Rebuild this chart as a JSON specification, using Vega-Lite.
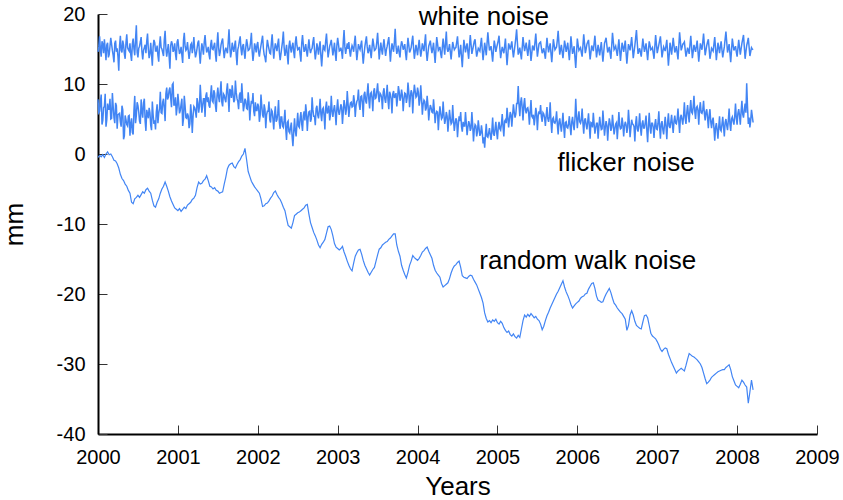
{
"$schema":"https://vega.github.io/schema/vega-lite/v6.json",
"width":719,"height":420,
"autosize":{"type":"none"},
"padding":{"left":98,"top":14,"right":26,"bottom":66},
"background":"white",
"config":{"view":{"stroke":null},"font":"Liberation Sans",
"axis":{"grid":false,"domainColor":"black","domainWidth":2,"tickColor":"#333333","tickWidth":1,"tickSize":-9,"labelFontSize":20,"labelColor":"black","labelFont":"Liberation Sans","titleFont":"Liberation Sans","titleFontSize":26,"titleFontWeight":"normal","titleColor":"black","labelFlush":false,"labelOverlap":false,"labelExpr":"''+datum.value"}},
"layer":[
{"data":{"values":[
{"t":2000,"w":14.6,"f":7.8,"r":-0.5},{"t":2000.02,"w":16.8,"f":6.1,"r":-0.2},{"t":2000.04,"w":13.9,"f":8.5,"r":-0.4},{"t":2000.06,"w":15.7,"f":4.8,"r":-0.1},{"t":2000.08,"w":16.4,"f":6.8,"r":-0.5},{"t":2000.1,"w":13.4,"f":3.9,"r":0.0},{"t":2000.12,"w":15.9,"f":7.2,"r":0.3},{"t":2000.14,"w":14.2,"f":6.4,"r":-0.1},{"t":2000.16,"w":16.6,"f":5.0,"r":0.0},{"t":2000.18,"w":14.8,"f":8.7,"r":-0.4},
{"t":2000.2,"w":13.1,"f":5.2,"r":-0.9},{"t":2000.22,"w":16.2,"f":7.3,"r":-1.0},{"t":2000.24,"w":15.1,"f":3.6,"r":-1.4},{"t":2000.26,"w":11.9,"f":5.7,"r":-2.0},{"t":2000.28,"w":16.9,"f":4.6,"r":-2.9},{"t":2000.3,"w":14.5,"f":6.9,"r":-3.5},{"t":2000.32,"w":15.6,"f":2.1,"r":-3.8},{"t":2000.34,"w":13.6,"f":5.5,"r":-4.3},{"t":2000.36,"w":17.1,"f":4.2,"r":-4.6},{"t":2000.38,"w":14.9,"f":5.4,"r":-5.2},
{"t":2000.4,"w":15.8,"f":2.6,"r":-5.6},{"t":2000.42,"w":13.3,"f":5.1,"r":-6.9},{"t":2000.44,"w":16.5,"f":2.8,"r":-7.1},{"t":2000.46,"w":14.1,"f":8.3,"r":-6.4},{"t":2000.48,"w":18.4,"f":5.5,"r":-6.2},{"t":2000.5,"w":13.8,"f":6.9,"r":-5.9},{"t":2000.52,"w":15.4,"f":4.7,"r":-6.2},{"t":2000.54,"w":16.7,"f":7.8,"r":-5.8},{"t":2000.56,"w":13.5,"f":5.2,"r":-5.4},{"t":2000.58,"w":15.2,"f":7.9,"r":-5.6},
{"t":2000.6,"w":14.4,"f":3.3,"r":-5.1},{"t":2000.62,"w":17.2,"f":5.7,"r":-4.9},{"t":2000.64,"w":13.7,"f":6.6,"r":-5.3},{"t":2000.66,"w":15.9,"f":4.1,"r":-5.6},{"t":2000.68,"w":12.6,"f":7.5,"r":-6.6},{"t":2000.7,"w":16.3,"f":4.3,"r":-7.4},{"t":2000.72,"w":14.7,"f":3.5,"r":-7.6},{"t":2000.74,"w":15.5,"f":7.1,"r":-6.9},{"t":2000.76,"w":13.2,"f":5.8,"r":-6.4},{"t":2000.78,"w":16.8,"f":8.9,"r":-5.6},
{"t":2000.8,"w":15.0,"f":5.8,"r":-5.0},{"t":2000.82,"w":14.0,"f":7.9,"r":-4.6},{"t":2000.84,"w":17.6,"f":4.7,"r":-4.0},{"t":2000.86,"w":13.9,"f":9.5,"r":-4.6},{"t":2000.88,"w":15.7,"f":8.1,"r":-5.3},{"t":2000.9,"w":12.2,"f":9.5,"r":-6.1},{"t":2000.92,"w":16.1,"f":6.7,"r":-6.7},{"t":2000.94,"w":14.6,"f":10.1,"r":-7.2},{"t":2000.96,"w":15.8,"f":7.0,"r":-7.7},{"t":2000.98,"w":13.4,"f":5.5,"r":-7.9},
{"t":2001,"w":16.4,"f":8.6,"r":-8.1},{"t":2001.02,"w":14.3,"f":5.8,"r":-7.8},{"t":2001.04,"w":15.3,"f":7.1,"r":-8.2},{"t":2001.06,"w":13.0,"f":4.0,"r":-7.9},{"t":2001.08,"w":17.3,"f":8.3,"r":-7.6},{"t":2001.1,"w":14.8,"f":5.2,"r":-7.8},{"t":2001.12,"w":16.0,"f":5.8,"r":-7.3},{"t":2001.14,"w":13.6,"f":3.7,"r":-7.1},{"t":2001.16,"w":15.6,"f":7.1,"r":-6.9},{"t":2001.18,"w":14.4,"f":3.0,"r":-6.5},
{"t":2001.2,"w":16.7,"f":6.8,"r":-6.3},{"t":2001.22,"w":13.8,"f":6.1,"r":-5.9},{"t":2001.24,"w":15.1,"f":8.0,"r":-4.8},{"t":2001.26,"w":16.2,"f":5.9,"r":-4.0},{"t":2001.28,"w":12.9,"f":9.9,"r":-4.3},{"t":2001.3,"w":15.8,"f":5.9,"r":-4.2},{"t":2001.32,"w":14.2,"f":7.9,"r":-3.8},{"t":2001.34,"w":17.0,"f":5.3,"r":-3.6},{"t":2001.36,"w":14.5,"f":8.8,"r":-3.1},{"t":2001.38,"w":15.3,"f":8.1,"r":-3.8},
{"t":2001.4,"w":13.5,"f":6.6,"r":-4.6},{"t":2001.42,"w":16.3,"f":9.8,"r":-4.7},{"t":2001.44,"w":14.9,"f":7.4,"r":-5.0},{"t":2001.46,"w":15.9,"f":8.7,"r":-4.8},{"t":2001.48,"w":13.2,"f":6.0,"r":-5.2},{"t":2001.5,"w":17.4,"f":9.5,"r":-5.3},{"t":2001.52,"w":14.0,"f":7.4,"r":-5.6},{"t":2001.54,"w":15.6,"f":10.4,"r":-5.5},{"t":2001.56,"w":16.5,"f":6.8,"r":-5.4},{"t":2001.58,"w":13.7,"f":8.4,"r":-4.3},
{"t":2001.6,"w":15.2,"f":7.4,"r":-3.3},{"t":2001.62,"w":14.4,"f":10.1,"r":-2.1},{"t":2001.64,"w":17.8,"f":6.0,"r":-1.6},{"t":2001.66,"w":13.8,"f":9.0,"r":-1.4},{"t":2001.68,"w":15.9,"f":9.8,"r":-1.3},{"t":2001.7,"w":14.6,"f":7.4,"r":-1.8},{"t":2001.72,"w":16.2,"f":10.5,"r":-2.0},{"t":2001.74,"w":12.7,"f":7.9,"r":-1.5},{"t":2001.76,"w":15.4,"f":6.4,"r":-1.1},{"t":2001.78,"w":16.8,"f":8.8,"r":-0.8},
{"t":2001.8,"w":14.1,"f":10.1,"r":-0.3},{"t":2001.82,"w":15.7,"f":6.1,"r":0.0},{"t":2001.84,"w":13.6,"f":7.9,"r":0.8},{"t":2001.86,"w":16.4,"f":6.5,"r":-0.8},{"t":2001.88,"w":14.8,"f":8.8,"r":-2.5},{"t":2001.9,"w":15.1,"f":4.8,"r":-3.2},{"t":2001.92,"w":17.3,"f":7.6,"r":-3.9},{"t":2001.94,"w":13.3,"f":8.7,"r":-4.3},{"t":2001.96,"w":15.8,"f":5.4,"r":-4.7},{"t":2001.98,"w":14.5,"f":6.2,"r":-5.0},
{"t":2002,"w":16.0,"f":7.2,"r":-5.3},{"t":2002.02,"w":13.9,"f":4.6,"r":-5.6},{"t":2002.04,"w":15.5,"f":8.5,"r":-6.4},{"t":2002.06,"w":16.9,"f":5.6,"r":-7.5},{"t":2002.08,"w":14.2,"f":7.1,"r":-7.4},{"t":2002.1,"w":13.1,"f":3.7,"r":-7.1},{"t":2002.12,"w":16.3,"f":6.1,"r":-7.0},{"t":2002.14,"w":15.0,"f":7.5,"r":-6.7},{"t":2002.16,"w":14.3,"f":4.5,"r":-6.3},{"t":2002.18,"w":17.1,"f":6.1,"r":-6.0},
{"t":2002.2,"w":13.6,"f":3.5,"r":-5.5},{"t":2002.22,"w":15.8,"f":6.8,"r":-5.3},{"t":2002.24,"w":14.7,"f":4.9,"r":-5.8},{"t":2002.26,"w":16.5,"f":7.7,"r":-6.2},{"t":2002.28,"w":13.4,"f":3.6,"r":-6.5},{"t":2002.3,"w":15.2,"f":5.3,"r":-7.0},{"t":2002.32,"w":17.5,"f":3.8,"r":-7.6},{"t":2002.34,"w":14.0,"f":6.3,"r":-8.1},{"t":2002.36,"w":15.6,"f":2.0,"r":-9.2},{"t":2002.38,"w":12.8,"f":4.7,"r":-10.2},
{"t":2002.4,"w":16.2,"f":3.0,"r":-10.4},{"t":2002.42,"w":14.5,"f":4.5,"r":-10.6},{"t":2002.44,"w":15.9,"f":1.1,"r":-9.8},{"t":2002.46,"w":13.7,"f":5.1,"r":-8.8},{"t":2002.48,"w":16.8,"f":2.5,"r":-8.6},{"t":2002.5,"w":14.9,"f":5.9,"r":-8.4},{"t":2002.52,"w":15.3,"f":3.8,"r":-8.3},{"t":2002.54,"w":13.2,"f":6.0,"r":-8.1},{"t":2002.56,"w":17.0,"f":3.3,"r":-7.9},{"t":2002.58,"w":14.6,"f":6.1,"r":-7.7},
{"t":2002.6,"w":15.7,"f":7.1,"r":-7.3},{"t":2002.62,"w":13.9,"f":3.3,"r":-7.2},{"t":2002.64,"w":16.4,"f":6.0,"r":-8.6},{"t":2002.66,"w":14.4,"f":4.6,"r":-9.8},{"t":2002.68,"w":15.1,"f":8.1,"r":-10.5},{"t":2002.7,"w":16.7,"f":5.4,"r":-11.2},{"t":2002.72,"w":13.5,"f":4.1,"r":-11.7},{"t":2002.74,"w":15.8,"f":6.9,"r":-12.3},{"t":2002.76,"w":14.2,"f":5.1,"r":-13.0},{"t":2002.78,"w":16.1,"f":7.9,"r":-13.4},
{"t":2002.8,"w":12.5,"f":4.7,"r":-12.9},{"t":2002.82,"w":15.6,"f":6.6,"r":-12.6},{"t":2002.84,"w":14.8,"f":3.5,"r":-12.2},{"t":2002.86,"w":17.2,"f":7.5,"r":-11.3},{"t":2002.88,"w":13.8,"f":6.1,"r":-10.4},{"t":2002.9,"w":15.4,"f":4.8,"r":-10.3},{"t":2002.92,"w":16.3,"f":8.3,"r":-10.8},{"t":2002.94,"w":14.1,"f":5.3,"r":-11.7},{"t":2002.96,"w":15.9,"f":7.0,"r":-12.8},{"t":2002.98,"w":13.3,"f":4.1,"r":-13.3},
{"t":2003,"w":16.6,"f":7.8,"r":-13.5},{"t":2003.02,"w":14.7,"f":5.6,"r":-13.7},{"t":2003.04,"w":15.2,"f":7.1,"r":-13.5},{"t":2003.06,"w":13.6,"f":4.3,"r":-13.2},{"t":2003.08,"w":17.7,"f":7.7,"r":-14.0},{"t":2003.1,"w":14.3,"f":5.6,"r":-14.6},{"t":2003.12,"w":15.8,"f":9.0,"r":-15.3},{"t":2003.14,"w":16.0,"f":5.3,"r":-15.9},{"t":2003.16,"w":13.9,"f":7.3,"r":-16.4},{"t":2003.18,"w":15.5,"f":6.7,"r":-16.7},
{"t":2003.2,"w":14.6,"f":8.4,"r":-15.6},{"t":2003.22,"w":16.9,"f":5.3,"r":-14.6},{"t":2003.24,"w":13.4,"f":7.5,"r":-14.1},{"t":2003.26,"w":15.7,"f":9.2,"r":-13.7},{"t":2003.28,"w":14.9,"f":6.3,"r":-13.6},{"t":2003.3,"w":16.2,"f":8.3,"r":-14.3},{"t":2003.32,"w":12.9,"f":5.3,"r":-15.2},{"t":2003.34,"w":15.3,"f":8.9,"r":-15.9},{"t":2003.36,"w":16.8,"f":7.2,"r":-16.4},{"t":2003.38,"w":14.4,"f":10.1,"r":-16.9},
{"t":2003.4,"w":15.6,"f":6.5,"r":-17.3},{"t":2003.42,"w":13.7,"f":8.8,"r":-16.9},{"t":2003.44,"w":16.5,"f":6.1,"r":-16.5},{"t":2003.46,"w":14.8,"f":9.4,"r":-16.2},{"t":2003.48,"w":15.1,"f":8.0,"r":-15.3},{"t":2003.5,"w":17.3,"f":10.1,"r":-14.4},{"t":2003.52,"w":13.5,"f":7.4,"r":-13.6},{"t":2003.54,"w":15.9,"f":8.5,"r":-13.4},{"t":2003.56,"w":14.2,"f":6.4,"r":-13.0},{"t":2003.58,"w":16.4,"f":9.4,"r":-12.8},
{"t":2003.6,"w":14.0,"f":7.3,"r":-12.6},{"t":2003.62,"w":15.4,"f":9.9,"r":-12.5},{"t":2003.64,"w":16.7,"f":6.4,"r":-12.2},{"t":2003.66,"w":13.2,"f":8.5,"r":-12.0},{"t":2003.68,"w":15.8,"f":5.8,"r":-11.7},{"t":2003.7,"w":14.6,"f":9.0,"r":-11.4},{"t":2003.72,"w":17.9,"f":8.3,"r":-11.4},{"t":2003.74,"w":14.3,"f":6.8,"r":-13.0},{"t":2003.76,"w":15.5,"f":9.7,"r":-13.9},{"t":2003.78,"w":13.8,"f":7.6,"r":-14.6},
{"t":2003.8,"w":16.1,"f":9.2,"r":-15.9},{"t":2003.82,"w":14.9,"f":6.1,"r":-16.6},{"t":2003.84,"w":15.7,"f":8.7,"r":-17.2},{"t":2003.86,"w":13.4,"f":7.3,"r":-17.7},{"t":2003.88,"w":16.6,"f":10.2,"r":-16.9},{"t":2003.9,"w":14.5,"f":6.7,"r":-15.9},{"t":2003.92,"w":15.2,"f":9.1,"r":-15.3},{"t":2003.94,"w":16.9,"f":5.8,"r":-14.5},{"t":2003.96,"w":13.6,"f":9.9,"r":-14.8},{"t":2003.98,"w":15.6,"f":8.1,"r":-15.0},
{"t":2004,"w":14.1,"f":9.5,"r":-15.2},{"t":2004.02,"w":16.3,"f":6.9,"r":-14.9},{"t":2004.04,"w":13.9,"f":9.8,"r":-14.5},{"t":2004.06,"w":15.8,"f":5.6,"r":-14.0},{"t":2004.08,"w":14.7,"f":7.7,"r":-13.8},{"t":2004.1,"w":17.1,"f":6.2,"r":-13.5},{"t":2004.12,"w":13.3,"f":8.3,"r":-13.3},{"t":2004.14,"w":15.4,"f":4.8,"r":-13.9},{"t":2004.16,"w":16.2,"f":7.0,"r":-14.4},{"t":2004.18,"w":14.4,"f":6.0,"r":-14.9},
{"t":2004.2,"w":15.9,"f":7.8,"r":-15.9},{"t":2004.22,"w":13.0,"f":4.4,"r":-16.6},{"t":2004.24,"w":16.7,"f":6.1,"r":-17.0},{"t":2004.26,"w":14.8,"f":3.4,"r":-17.3},{"t":2004.28,"w":15.3,"f":6.8,"r":-17.6},{"t":2004.3,"w":13.7,"f":5.0,"r":-18.5},{"t":2004.32,"w":16.5,"f":7.5,"r":-19.0},{"t":2004.34,"w":14.2,"f":4.3,"r":-18.8},{"t":2004.36,"w":17.5,"f":6.0,"r":-18.6},{"t":2004.38,"w":14.6,"f":3.2,"r":-18.4},
{"t":2004.4,"w":15.7,"f":6.3,"r":-17.8},{"t":2004.42,"w":13.5,"f":4.3,"r":-17.0},{"t":2004.44,"w":16.0,"f":7.0,"r":-16.4},{"t":2004.46,"w":14.9,"f":3.3,"r":-16.0},{"t":2004.48,"w":15.2,"f":5.1,"r":-15.8},{"t":2004.5,"w":16.8,"f":2.4,"r":-15.5},{"t":2004.52,"w":13.8,"f":5.4,"r":-15.3},{"t":2004.54,"w":15.6,"f":6.0,"r":-16.2},{"t":2004.56,"w":12.4,"f":3.2,"r":-17.4},{"t":2004.58,"w":16.3,"f":4.0,"r":-17.6},
{"t":2004.6,"w":14.5,"f":6.0,"r":-17.7},{"t":2004.62,"w":15.8,"f":2.7,"r":-17.8},{"t":2004.64,"w":13.6,"f":4.7,"r":-17.5},{"t":2004.66,"w":17.0,"f":3.3,"r":-17.3},{"t":2004.68,"w":14.3,"f":6.0,"r":-17.4},{"t":2004.7,"w":15.5,"f":1.8,"r":-17.9},{"t":2004.72,"w":16.4,"f":4.2,"r":-18.3},{"t":2004.74,"w":13.9,"f":2.5,"r":-18.7},{"t":2004.76,"w":15.1,"f":4.8,"r":-19.3},{"t":2004.78,"w":14.7,"f":2.6,"r":-19.9},
{"t":2004.8,"w":16.6,"f":4.1,"r":-20.5},{"t":2004.82,"w":13.4,"f":1.5,"r":-21.3},{"t":2004.84,"w":15.9,"f":0.9,"r":-22.7},{"t":2004.86,"w":14.1,"f":4.3,"r":-23.5},{"t":2004.88,"w":17.4,"f":2.4,"r":-24.0},{"t":2004.9,"w":14.8,"f":3.7,"r":-23.8},{"t":2004.92,"w":15.4,"f":2.0,"r":-24.1},{"t":2004.94,"w":13.2,"f":5.2,"r":-23.7},{"t":2004.96,"w":16.2,"f":2.6,"r":-23.9},{"t":2004.98,"w":14.6,"f":4.6,"r":-23.6},
{"t":2005,"w":15.7,"f":2.1,"r":-24.1},{"t":2005.02,"w":16.9,"f":4.6,"r":-24.3},{"t":2005.04,"w":13.7,"f":3.4,"r":-23.9},{"t":2005.06,"w":15.3,"f":5.7,"r":-24.2},{"t":2005.08,"w":14.4,"f":2.5,"r":-24.8},{"t":2005.1,"w":16.5,"f":4.9,"r":-25.2},{"t":2005.12,"w":12.7,"f":6.6,"r":-25.5},{"t":2005.14,"w":15.8,"f":3.8,"r":-25.3},{"t":2005.16,"w":14.9,"f":6.0,"r":-25.8},{"t":2005.18,"w":16.1,"f":3.9,"r":-26.0},
{"t":2005.2,"w":13.8,"f":7.1,"r":-25.7},{"t":2005.22,"w":15.6,"f":5.2,"r":-26.1},{"t":2005.24,"w":17.8,"f":7.2,"r":-26.3},{"t":2005.26,"w":14.2,"f":9.7,"r":-25.9},{"t":2005.28,"w":15.2,"f":5.4,"r":-26.2},{"t":2005.3,"w":13.5,"f":8.1,"r":-25.0},{"t":2005.32,"w":16.7,"f":4.8,"r":-23.8},{"t":2005.34,"w":14.7,"f":8.0,"r":-23.0},{"t":2005.36,"w":15.9,"f":5.8,"r":-23.3},{"t":2005.38,"w":14.0,"f":6.6,"r":-22.9},
{"t":2005.4,"w":16.3,"f":4.2,"r":-23.2},{"t":2005.42,"w":13.3,"f":7.7,"r":-22.8},{"t":2005.44,"w":15.5,"f":5.2,"r":-23.1},{"t":2005.46,"w":14.8,"f":4.1,"r":-23.4},{"t":2005.48,"w":17.2,"f":6.6,"r":-23.2},{"t":2005.5,"w":13.9,"f":3.4,"r":-23.6},{"t":2005.52,"w":15.7,"f":6.1,"r":-23.8},{"t":2005.54,"w":16.0,"f":7.0,"r":-24.3},{"t":2005.56,"w":14.4,"f":4.6,"r":-25.1},{"t":2005.58,"w":15.1,"f":5.7,"r":-24.6},
{"t":2005.6,"w":13.6,"f":4.0,"r":-23.8},{"t":2005.62,"w":16.6,"f":6.7,"r":-23.1},{"t":2005.64,"w":14.5,"f":4.6,"r":-22.6},{"t":2005.66,"w":15.8,"f":7.4,"r":-22.0},{"t":2005.68,"w":13.1,"f":3.0,"r":-21.5},{"t":2005.7,"w":16.4,"f":5.2,"r":-21.0},{"t":2005.72,"w":14.9,"f":4.4,"r":-20.5},{"t":2005.74,"w":15.3,"f":6.1,"r":-20.0},{"t":2005.76,"w":17.6,"f":2.8,"r":-19.6},{"t":2005.78,"w":14.2,"f":5.1,"r":-19.1},
{"t":2005.8,"w":15.6,"f":3.2,"r":-18.6},{"t":2005.82,"w":13.7,"f":5.9,"r":-18.1},{"t":2005.84,"w":16.2,"f":2.3,"r":-19.0},{"t":2005.86,"w":14.6,"f":4.6,"r":-19.7},{"t":2005.88,"w":15.9,"f":3.7,"r":-20.2},{"t":2005.9,"w":13.4,"f":5.4,"r":-20.8},{"t":2005.92,"w":16.8,"f":2.7,"r":-21.5},{"t":2005.94,"w":14.3,"f":5.3,"r":-22.0},{"t":2005.96,"w":15.4,"f":3.4,"r":-21.7},{"t":2005.98,"w":12.3,"f":7.9,"r":-21.4},
{"t":2006,"w":16.5,"f":3.7,"r":-21.2},{"t":2006.02,"w":14.8,"f":6.1,"r":-21.0},{"t":2006.04,"w":15.2,"f":4.4,"r":-20.6},{"t":2006.06,"w":13.9,"f":6.5,"r":-20.4},{"t":2006.08,"w":17.1,"f":2.9,"r":-20.3},{"t":2006.1,"w":14.4,"f":5.1,"r":-20.0},{"t":2006.12,"w":15.7,"f":3.5,"r":-19.9},{"t":2006.14,"w":16.3,"f":5.8,"r":-19.3},{"t":2006.16,"w":13.5,"f":2.2,"r":-18.9},{"t":2006.18,"w":15.5,"f":4.4,"r":-18.5},
{"t":2006.2,"w":14.7,"f":5.9,"r":-18.4},{"t":2006.22,"w":16.9,"f":2.9,"r":-19.2},{"t":2006.24,"w":13.8,"f":4.4,"r":-20.3},{"t":2006.26,"w":15.6,"f":2.2,"r":-20.9},{"t":2006.28,"w":14.1,"f":5.3,"r":-21.0},{"t":2006.3,"w":16.0,"f":3.5,"r":-21.2},{"t":2006.32,"w":13.2,"f":6.2,"r":-21.1},{"t":2006.34,"w":15.8,"f":2.6,"r":-20.5},{"t":2006.36,"w":16.6,"f":4.7,"r":-20.0},{"t":2006.38,"w":14.5,"f":1.9,"r":-19.6},
{"t":2006.4,"w":15.3,"f":5.1,"r":-19.2},{"t":2006.42,"w":13.6,"f":3.3,"r":-19.8},{"t":2006.44,"w":17.3,"f":5.6,"r":-20.6},{"t":2006.46,"w":14.9,"f":2.8,"r":-21.3},{"t":2006.48,"w":15.4,"f":4.3,"r":-21.6},{"t":2006.5,"w":14.0,"f":2.1,"r":-22.0},{"t":2006.52,"w":16.4,"f":6.0,"r":-22.3},{"t":2006.54,"w":13.3,"f":3.6,"r":-22.6},{"t":2006.56,"w":15.9,"f":5.2,"r":-22.8},{"t":2006.58,"w":14.6,"f":2.5,"r":-23.2},
{"t":2006.6,"w":16.2,"f":4.6,"r":-23.6},{"t":2006.62,"w":12.9,"f":3.0,"r":-25.2},{"t":2006.64,"w":15.7,"f":6.3,"r":-24.5},{"t":2006.66,"w":14.8,"f":2.4,"r":-23.0},{"t":2006.68,"w":16.7,"f":4.9,"r":-22.4},{"t":2006.7,"w":13.7,"f":4.2,"r":-23.0},{"t":2006.72,"w":15.5,"f":1.8,"r":-23.9},{"t":2006.74,"w":17.7,"f":5.4,"r":-24.5},{"t":2006.76,"w":14.3,"f":3.2,"r":-24.7},{"t":2006.78,"w":15.1,"f":5.8,"r":-24.9},
{"t":2006.8,"w":13.9,"f":2.6,"r":-25.0},{"t":2006.82,"w":16.5,"f":4.8,"r":-24.0},{"t":2006.84,"w":14.6,"f":3.7,"r":-23.1},{"t":2006.86,"w":15.8,"f":5.5,"r":-23.0},{"t":2006.88,"w":13.4,"f":1.7,"r":-23.4},{"t":2006.9,"w":16.1,"f":5.9,"r":-24.5},{"t":2006.92,"w":14.9,"f":2.9,"r":-25.6},{"t":2006.94,"w":15.2,"f":4.4,"r":-26.0},{"t":2006.96,"w":13.6,"f":2.3,"r":-26.2},{"t":2006.98,"w":17.0,"f":5.0,"r":-26.4},
{"t":2007,"w":14.4,"f":3.5,"r":-26.8},{"t":2007.02,"w":15.6,"f":6.1,"r":-27.3},{"t":2007.04,"w":16.8,"f":2.2,"r":-27.9},{"t":2007.06,"w":13.8,"f":4.7,"r":-28.2},{"t":2007.08,"w":15.3,"f":2.8,"r":-27.9},{"t":2007.1,"w":14.7,"f":5.3,"r":-27.7},{"t":2007.12,"w":16.3,"f":2.1,"r":-27.8},{"t":2007.14,"w":12.6,"f":5.8,"r":-28.6},{"t":2007.16,"w":15.9,"f":3.7,"r":-29.2},{"t":2007.18,"w":14.2,"f":5.6,"r":-29.8},
{"t":2007.2,"w":16.6,"f":3.0,"r":-30.3},{"t":2007.22,"w":14.5,"f":5.5,"r":-30.8},{"t":2007.24,"w":15.4,"f":4.3,"r":-31.3},{"t":2007.26,"w":13.5,"f":6.5,"r":-31.0},{"t":2007.28,"w":17.4,"f":3.0,"r":-30.8},{"t":2007.3,"w":14.8,"f":5.6,"r":-30.6},{"t":2007.32,"w":15.7,"f":4.2,"r":-30.8},{"t":2007.34,"w":16.0,"f":7.4,"r":-31.0},{"t":2007.36,"w":13.9,"f":4.3,"r":-30.2},{"t":2007.38,"w":15.2,"f":7.0,"r":-29.3},
{"t":2007.4,"w":14.3,"f":4.5,"r":-28.5},{"t":2007.42,"w":16.9,"f":7.7,"r":-28.7},{"t":2007.44,"w":13.7,"f":5.8,"r":-28.9},{"t":2007.46,"w":15.6,"f":8.3,"r":-29.0},{"t":2007.48,"w":14.6,"f":5.0,"r":-29.2},{"t":2007.5,"w":16.2,"f":6.8,"r":-29.4},{"t":2007.52,"w":13.2,"f":4.2,"r":-29.7},{"t":2007.54,"w":15.8,"f":7.4,"r":-30.0},{"t":2007.56,"w":14.9,"f":5.8,"r":-30.5},{"t":2007.58,"w":17.2,"f":7.6,"r":-31.3},
{"t":2007.6,"w":14.1,"f":4.8,"r":-32.1},{"t":2007.62,"w":15.5,"f":6.4,"r":-32.8},{"t":2007.64,"w":16.4,"f":3.7,"r":-32.6},{"t":2007.66,"w":13.6,"f":6.4,"r":-32.3},{"t":2007.68,"w":15.1,"f":3.7,"r":-31.9},{"t":2007.7,"w":14.7,"f":5.2,"r":-31.7},{"t":2007.72,"w":16.7,"f":1.9,"r":-31.5},{"t":2007.74,"w":13.4,"f":4.4,"r":-31.3},{"t":2007.76,"w":15.9,"f":2.2,"r":-31.1},{"t":2007.78,"w":14.4,"f":5.4,"r":-31.0},
{"t":2007.8,"w":16.1,"f":3.3,"r":-30.9},{"t":2007.82,"w":13.8,"f":5.3,"r":-30.8},{"t":2007.84,"w":15.3,"f":2.5,"r":-30.8},{"t":2007.86,"w":17.5,"f":5.0,"r":-30.5},{"t":2007.88,"w":14.5,"f":3.4,"r":-30.3},{"t":2007.9,"w":15.7,"f":6.5,"r":-30.1},{"t":2007.92,"w":13.1,"f":3.3,"r":-30.8},{"t":2007.94,"w":16.5,"f":5.3,"r":-31.8},{"t":2007.96,"w":14.8,"f":4.2,"r":-32.4},{"t":2007.98,"w":15.4,"f":7.2,"r":-33.0},
{"t":2008,"w":13.9,"f":4.2,"r":-33.2},{"t":2008.02,"w":16.3,"f":6.4,"r":-33.4},{"t":2008.04,"w":14.2,"f":4.2,"r":-32.9},{"t":2008.06,"w":15.8,"f":7.6,"r":-32.3},{"t":2008.08,"w":17.0,"f":5.2,"r":-32.6},{"t":2008.1,"w":13.6,"f":7.2,"r":-33.0},{"t":2008.12,"w":15.5,"f":10.1,"r":-33.3},{"t":2008.14,"w":16.6,"f":4.3,"r":-35.6},{"t":2008.16,"w":14.0,"f":3.8,"r":-34.0},{"t":2008.18,"w":15.2,"f":6.3,"r":-32.3},
{"t":2008.2,"w":14.9,"f":4.5,"r":-33.7},
{"t":2000.01,"w":15.3,"f":5.9},{"t":2000.03,"w":14.9,"f":7.4},{"t":2000.05,"w":16.1,"f":4.2},{"t":2000.07,"w":14.4,"f":6.6},{"t":2000.09,"w":15.0,"f":8.6},{"t":2000.11,"w":15.6,"f":4.9},{"t":2000.13,"w":13.8,"f":6.4},{"t":2000.15,"w":15.4,"f":7.9},{"t":2000.17,"w":15.7,"f":5.1},{"t":2000.19,"w":14.1,"f":6.8},
{"t":2000.21,"w":15.8,"f":4.4},{"t":2000.23,"w":14.6,"f":6.9},{"t":2000.25,"w":13.9,"f":5.6},{"t":2000.27,"w":15.5,"f":5.8},{"t":2000.29,"w":14.8,"f":3.9},{"t":2000.31,"w":16.2,"f":6.3},{"t":2000.33,"w":14.3,"f":2.6},{"t":2000.35,"w":15.9,"f":4.9},{"t":2000.37,"w":15.2,"f":4.0},{"t":2000.39,"w":14.7,"f":5.5},
{"t":2000.41,"w":14.2,"f":4.3},{"t":2000.43,"w":15.7,"f":3.1},{"t":2000.45,"w":15.0,"f":6.2},{"t":2000.47,"w":16.4,"f":4.4},{"t":2000.49,"w":14.5,"f":7.4},{"t":2000.51,"w":15.1,"f":6.0},{"t":2000.53,"w":16.0,"f":4.3},{"t":2000.55,"w":14.6,"f":6.1},{"t":2000.57,"w":14.8,"f":7.3},{"t":2000.59,"w":15.6,"f":4.7},
{"t":2000.61,"w":16.1,"f":6.3},{"t":2000.63,"w":15.0,"f":5.1},{"t":2000.65,"w":14.4,"f":5.9},{"t":2000.67,"w":14.2,"f":3.4},{"t":2000.69,"w":15.3,"f":5.6},{"t":2000.71,"w":15.9,"f":4.8},{"t":2000.73,"w":14.7,"f":6.0},{"t":2000.75,"w":14.1,"f":4.4},{"t":2000.77,"w":15.6,"f":6.5},{"t":2000.79,"w":15.2,"f":5.9},
{"t":2000.81,"w":14.5,"f":7.4},{"t":2000.83,"w":16.3,"f":6.5},{"t":2000.85,"w":15.1,"f":8.6},{"t":2000.87,"w":14.8,"f":7.8},{"t":2000.89,"w":14.0,"f":9.1},{"t":2000.91,"w":15.5,"f":8.0},{"t":2000.93,"w":15.7,"f":9.9},{"t":2000.95,"w":14.9,"f":7.0},{"t":2000.97,"w":14.3,"f":8.1},{"t":2000.99,"w":16.0,"f":6.6},
{"t":2001.01,"w":15.2,"f":7.3},{"t":2001.03,"w":14.6,"f":6.2},{"t":2001.05,"w":14.1,"f":7.9},{"t":2001.07,"w":16.2,"f":5.0},{"t":2001.09,"w":15.4,"f":6.9},{"t":2001.11,"w":15.0,"f":5.1},{"t":2001.13,"w":14.7,"f":5.4},{"t":2001.15,"w":14.5,"f":4.3},{"t":2001.17,"w":15.8,"f":5.7},{"t":2001.19,"w":15.3,"f":5.4},
{"t":2001.21,"w":14.9,"f":6.6},{"t":2001.23,"w":14.3,"f":5.2},{"t":2001.25,"w":15.9,"f":7.3},{"t":2001.27,"w":14.4,"f":6.8},{"t":2001.29,"w":14.6,"f":7.8},{"t":2001.31,"w":15.1,"f":6.9},{"t":2001.33,"w":16.0,"f":7.9},{"t":2001.35,"w":15.5,"f":8.3},{"t":2001.37,"w":14.8,"f":7.4},{"t":2001.39,"w":14.2,"f":6.9},
{"t":2001.41,"w":15.6,"f":8.5},{"t":2001.43,"w":15.0,"f":7.6},{"t":2001.45,"w":15.4,"f":9.1},{"t":2001.47,"w":14.3,"f":6.9},{"t":2001.49,"w":15.7,"f":8.4},{"t":2001.51,"w":15.2,"f":8.1},{"t":2001.53,"w":14.6,"f":8.9},{"t":2001.55,"w":16.1,"f":7.4},{"t":2001.57,"w":14.9,"f":8.6},{"t":2001.59,"w":14.7,"f":7.8},
{"t":2001.61,"w":14.8,"f":9.0},{"t":2001.63,"w":16.0,"f":8.2},{"t":2001.65,"w":15.3,"f":9.3},{"t":2001.67,"w":14.6,"f":8.0},{"t":2001.69,"w":15.1,"f":8.6},{"t":2001.71,"w":15.5,"f":7.7},{"t":2001.73,"w":14.2,"f":8.8},{"t":2001.75,"w":14.9,"f":7.5},{"t":2001.77,"w":16.2,"f":8.4},{"t":2001.79,"w":15.0,"f":7.3},
{"t":2001.81,"w":15.4,"f":8.1},{"t":2001.83,"w":14.5,"f":6.9},{"t":2001.85,"w":15.2,"f":7.6},{"t":2001.87,"w":15.7,"f":6.4},{"t":2001.89,"w":14.9,"f":7.5},{"t":2001.91,"w":16.0,"f":6.6},{"t":2001.93,"w":14.7,"f":7.2},{"t":2001.95,"w":14.4,"f":6.1},{"t":2001.97,"w":15.3,"f":7.4},{"t":2001.99,"w":15.6,"f":6.2},
{"t":2002.01,"w":14.6,"f":6.8},{"t":2002.03,"w":14.8,"f":5.5},{"t":2002.05,"w":16.2,"f":6.9},{"t":2002.07,"w":15.1,"f":5.2},{"t":2002.09,"w":13.8,"f":6.4},{"t":2002.11,"w":15.0,"f":5.6},{"t":2002.13,"w":15.6,"f":6.1},{"t":2002.15,"w":14.4,"f":4.9},{"t":2002.17,"w":15.8,"f":6.3},{"t":2002.19,"w":15.2,"f":5.0},
{"t":2002.21,"w":14.9,"f":5.7},{"t":2002.23,"w":15.3,"f":4.6},{"t":2002.25,"w":15.7,"f":5.8},{"t":2002.27,"w":14.5,"f":4.5},{"t":2002.29,"w":14.3,"f":5.3},{"t":2002.31,"w":16.1,"f":4.0},{"t":2002.33,"w":15.2,"f":4.8},{"t":2002.35,"w":14.7,"f":3.6},{"t":2002.37,"w":14.1,"f":4.5},{"t":2002.39,"w":15.4,"f":3.2},
{"t":2002.41,"w":15.1,"f":3.8},{"t":2002.43,"w":15.4,"f":2.5},{"t":2002.45,"w":14.6,"f":3.2},{"t":2002.47,"w":15.9,"f":3.3},{"t":2002.49,"w":15.5,"f":4.2},{"t":2002.51,"w":15.0,"f":4.0},{"t":2002.53,"w":14.2,"f":5.1},{"t":2002.55,"w":15.8,"f":4.3},{"t":2002.57,"w":15.6,"f":5.5},{"t":2002.59,"w":14.9,"f":4.8},
{"t":2002.61,"w":14.7,"f":5.9},{"t":2002.63,"w":15.2,"f":5.2},{"t":2002.65,"w":15.1,"f":6.1},{"t":2002.67,"w":14.9,"f":5.0},{"t":2002.69,"w":16.0,"f":6.3},{"t":2002.71,"w":14.8,"f":5.4},{"t":2002.73,"w":14.5,"f":6.5},{"t":2002.75,"w":15.1,"f":5.6},{"t":2002.77,"w":15.3,"f":6.2},{"t":2002.79,"w":14.0,"f":5.7},
{"t":2002.81,"w":14.3,"f":6.4},{"t":2002.83,"w":15.0,"f":5.5},{"t":2002.85,"w":16.1,"f":6.6},{"t":2002.87,"w":15.4,"f":5.8},{"t":2002.89,"w":14.6,"f":6.9},{"t":2002.91,"w":15.8,"f":5.6},{"t":2002.93,"w":15.2,"f":6.2},{"t":2002.95,"w":14.9,"f":6.3},{"t":2002.97,"w":14.4,"f":5.9},{"t":2002.99,"w":15.5,"f":6.5},
{"t":2003.01,"w":15.7,"f":6.1},{"t":2003.03,"w":14.8,"f":6.3},{"t":2003.05,"w":14.6,"f":6.7},{"t":2003.07,"w":16.0,"f":6.0},{"t":2003.09,"w":15.3,"f":6.9},{"t":2003.11,"w":15.1,"f":6.4},{"t":2003.13,"w":15.0,"f":7.2},{"t":2003.15,"w":14.7,"f":6.6},{"t":2003.17,"w":14.9,"f":7.4},{"t":2003.19,"w":15.2,"f":6.8},
{"t":2003.21,"w":15.9,"f":7.5},{"t":2003.23,"w":15.0,"f":6.9},{"t":2003.25,"w":14.5,"f":7.8},{"t":2003.27,"w":15.2,"f":7.0},{"t":2003.29,"w":15.6,"f":8.2},{"t":2003.31,"w":14.4,"f":7.3},{"t":2003.33,"w":14.2,"f":8.5},{"t":2003.35,"w":16.1,"f":7.6},{"t":2003.37,"w":15.3,"f":8.7},{"t":2003.39,"w":14.8,"f":7.8},
{"t":2003.41,"w":14.6,"f":8.6},{"t":2003.43,"w":15.2,"f":8.0},{"t":2003.45,"w":15.7,"f":8.9},{"t":2003.47,"w":14.9,"f":7.9},{"t":2003.49,"w":16.0,"f":9.0},{"t":2003.51,"w":15.4,"f":8.3},{"t":2003.53,"w":14.8,"f":8.7},{"t":2003.55,"w":14.9,"f":8.1},{"t":2003.57,"w":15.5,"f":8.8},{"t":2003.59,"w":15.1,"f":7.9},
{"t":2003.61,"w":14.9,"f":8.5},{"t":2003.63,"w":16.1,"f":7.7},{"t":2003.65,"w":14.9,"f":8.9},{"t":2003.67,"w":14.7,"f":7.8},{"t":2003.69,"w":15.2,"f":8.6},{"t":2003.71,"w":16.0,"f":8.0},{"t":2003.73,"w":15.4,"f":8.7},{"t":2003.75,"w":14.8,"f":7.9},{"t":2003.77,"w":14.4,"f":8.9},{"t":2003.79,"w":15.3,"f":8.1},
{"t":2003.81,"w":15.7,"f":8.4},{"t":2003.83,"w":15.2,"f":7.8},{"t":2003.85,"w":14.4,"f":8.6},{"t":2003.87,"w":15.1,"f":8.0},{"t":2003.89,"w":15.6,"f":8.9},{"t":2003.91,"w":14.8,"f":8.2},{"t":2003.93,"w":16.1,"f":8.7},{"t":2003.95,"w":15.1,"f":8.4},{"t":2003.97,"w":14.6,"f":9.0},{"t":2003.99,"w":14.9,"f":8.3},
{"t":2004.01,"w":15.3,"f":8.8},{"t":2004.03,"w":15.0,"f":7.7},{"t":2004.05,"w":14.7,"f":8.0},{"t":2004.07,"w":15.2,"f":7.1},{"t":2004.09,"w":15.9,"f":7.5},{"t":2004.11,"w":14.6,"f":6.6},{"t":2004.13,"w":14.4,"f":7.0},{"t":2004.15,"w":15.8,"f":6.2},{"t":2004.17,"w":15.2,"f":6.6},{"t":2004.19,"w":15.1,"f":5.9},
{"t":2004.21,"w":14.4,"f":6.3},{"t":2004.23,"w":14.9,"f":5.7},{"t":2004.25,"w":15.8,"f":6.0},{"t":2004.27,"w":15.0,"f":5.4},{"t":2004.29,"w":14.3,"f":5.8},{"t":2004.31,"w":15.2,"f":5.2},{"t":2004.33,"w":15.3,"f":5.6},{"t":2004.35,"w":15.9,"f":4.9},{"t":2004.37,"w":15.1,"f":5.4},{"t":2004.39,"w":15.0,"f":4.7},
{"t":2004.41,"w":14.6,"f":5.1},{"t":2004.43,"w":14.8,"f":4.5},{"t":2004.45,"w":15.4,"f":4.9},{"t":2004.47,"w":15.1,"f":4.3},{"t":2004.49,"w":16.0,"f":4.8},{"t":2004.51,"w":15.2,"f":4.1},{"t":2004.53,"w":14.5,"f":4.7},{"t":2004.55,"w":13.9,"f":3.9},{"t":2004.57,"w":14.5,"f":4.6},{"t":2004.59,"w":15.4,"f":4.0},
{"t":2004.61,"w":15.3,"f":4.4},{"t":2004.63,"w":14.6,"f":3.8},{"t":2004.65,"w":15.5,"f":4.3},{"t":2004.67,"w":15.6,"f":3.7},{"t":2004.69,"w":14.9,"f":4.2},{"t":2004.71,"w":16.1,"f":3.5},{"t":2004.73,"w":15.0,"f":4.0},{"t":2004.75,"w":14.5,"f":3.2},{"t":2004.77,"w":14.9,"f":3.7},{"t":2004.79,"w":15.7,"f":2.9},
{"t":2004.81,"w":14.9,"f":3.1},{"t":2004.83,"w":14.6,"f":2.4},{"t":2004.85,"w":15.1,"f":2.8},{"t":2004.87,"w":15.8,"f":2.5},{"t":2004.89,"w":16.0,"f":3.0},{"t":2004.91,"w":15.1,"f":2.7},{"t":2004.93,"w":14.3,"f":3.3},{"t":2004.95,"w":14.8,"f":2.9},{"t":2004.97,"w":15.5,"f":3.6},{"t":2004.99,"w":15.2,"f":3.1},
{"t":2005.01,"w":16.2,"f":3.8},{"t":2005.03,"w":15.1,"f":3.6},{"t":2005.05,"w":14.6,"f":4.3},{"t":2005.07,"w":14.8,"f":3.9},{"t":2005.09,"w":15.4,"f":4.7},{"t":2005.11,"w":14.5,"f":4.4},{"t":2005.13,"w":14.2,"f":5.2},{"t":2005.15,"w":15.4,"f":5.0},{"t":2005.17,"w":15.5,"f":5.6},{"t":2005.19,"w":14.8,"f":5.5},
{"t":2005.21,"w":14.7,"f":6.0},{"t":2005.23,"w":16.6,"f":5.7},{"t":2005.25,"w":15.9,"f":7.2},{"t":2005.27,"w":14.6,"f":7.0},{"t":2005.29,"w":14.3,"f":7.3},{"t":2005.31,"w":15.2,"f":6.6},{"t":2005.33,"w":15.6,"f":7.0},{"t":2005.35,"w":15.3,"f":6.3},{"t":2005.37,"w":14.9,"f":6.5},{"t":2005.39,"w":15.1,"f":5.9},
{"t":2005.41,"w":14.8,"f":6.1},{"t":2005.43,"w":14.4,"f":5.4},{"t":2005.45,"w":15.1,"f":5.6},{"t":2005.47,"w":16.0,"f":5.2},{"t":2005.49,"w":15.5,"f":5.8},{"t":2005.51,"w":14.8,"f":5.4},{"t":2005.53,"w":15.9,"f":5.7},{"t":2005.55,"w":15.2,"f":5.3},{"t":2005.57,"w":14.7,"f":5.9},{"t":2005.59,"w":14.3,"f":5.2},
{"t":2005.61,"w":15.2,"f":5.5},{"t":2005.63,"w":15.4,"f":5.1},{"t":2005.65,"w":15.2,"f":5.3},{"t":2005.67,"w":14.4,"f":4.7},{"t":2005.69,"w":14.7,"f":5.0},{"t":2005.71,"w":15.6,"f":4.5},{"t":2005.73,"w":15.1,"f":4.8},{"t":2005.75,"w":16.3,"f":4.2},{"t":2005.77,"w":15.8,"f":4.6},{"t":2005.79,"w":14.9,"f":4.1},
{"t":2005.81,"w":14.6,"f":4.4},{"t":2005.83,"w":14.9,"f":3.9},{"t":2005.85,"w":15.5,"f":4.5},{"t":2005.87,"w":15.2,"f":3.8},{"t":2005.89,"w":14.6,"f":4.3},{"t":2005.91,"w":15.0,"f":3.9},{"t":2005.93,"w":15.5,"f":4.6},{"t":2005.95,"w":14.8,"f":4.2},{"t":2005.97,"w":13.8,"f":5.0},{"t":2005.99,"w":14.4,"f":5.4},
{"t":2006.01,"w":15.6,"f":5.1},{"t":2006.03,"w":15.0,"f":4.6},{"t":2006.05,"w":14.5,"f":4.9},{"t":2006.07,"w":15.5,"f":4.4},{"t":2006.09,"w":15.8,"f":4.8},{"t":2006.11,"w":15.0,"f":4.2},{"t":2006.13,"w":16.0,"f":4.6},{"t":2006.15,"w":14.9,"f":4.0},{"t":2006.17,"w":14.5,"f":4.5},{"t":2006.19,"w":15.1,"f":3.8},
{"t":2006.21,"w":15.8,"f":4.3},{"t":2006.23,"w":15.3,"f":3.7},{"t":2006.25,"w":14.7,"f":4.4},{"t":2006.27,"w":14.8,"f":3.9},{"t":2006.29,"w":15.1,"f":4.2},{"t":2006.31,"w":14.6,"f":3.6},{"t":2006.33,"w":14.5,"f":4.5},{"t":2006.35,"w":16.2,"f":3.8},{"t":2006.37,"w":15.5,"f":4.1},{"t":2006.39,"w":14.9,"f":3.9},
{"t":2006.41,"w":14.4,"f":4.4},{"t":2006.43,"w":15.4,"f":3.8},{"t":2006.45,"w":16.1,"f":4.2},{"t":2006.47,"w":15.1,"f":3.6},{"t":2006.49,"w":14.7,"f":4.5},{"t":2006.51,"w":15.2,"f":3.9},{"t":2006.53,"w":14.8,"f":4.1},{"t":2006.55,"w":14.6,"f":3.7},{"t":2006.57,"w":15.3,"f":4.3},{"t":2006.59,"w":15.4,"f":4.0},
{"t":2006.61,"w":14.5,"f":4.2},{"t":2006.63,"w":14.3,"f":3.8},{"t":2006.65,"w":15.3,"f":4.6},{"t":2006.67,"w":15.7,"f":3.7},{"t":2006.69,"w":15.2,"f":4.3},{"t":2006.71,"w":14.6,"f":3.9},{"t":2006.73,"w":16.6,"f":4.4},{"t":2006.75,"w":15.9,"f":3.6},{"t":2006.77,"w":14.7,"f":4.2},{"t":2006.79,"w":14.5,"f":3.8},
{"t":2006.81,"w":15.2,"f":4.3},{"t":2006.83,"w":15.5,"f":3.7},{"t":2006.85,"w":15.2,"f":4.5},{"t":2006.87,"w":14.6,"f":3.4},{"t":2006.89,"w":14.8,"f":4.1},{"t":2006.91,"w":15.5,"f":3.9},{"t":2006.93,"w":15.0,"f":4.4},{"t":2006.95,"w":14.4,"f":3.8},{"t":2006.97,"w":15.3,"f":4.2},{"t":2006.99,"w":15.7,"f":3.6},
{"t":2007.01,"w":15.0,"f":4.4},{"t":2007.03,"w":16.2,"f":3.8},{"t":2007.05,"w":15.3,"f":4.3},{"t":2007.07,"w":14.6,"f":3.5},{"t":2007.09,"w":15.0,"f":4.1},{"t":2007.11,"w":15.5,"f":3.9},{"t":2007.13,"w":14.5,"f":4.5},{"t":2007.15,"w":14.2,"f":4.0},{"t":2007.17,"w":15.1,"f":4.6},{"t":2007.19,"w":15.4,"f":4.2},
{"t":2007.21,"w":15.5,"f":4.7},{"t":2007.23,"w":14.9,"f":4.4},{"t":2007.25,"w":14.4,"f":5.0},{"t":2007.27,"w":15.4,"f":4.6},{"t":2007.29,"w":16.1,"f":5.2},{"t":2007.31,"w":15.2,"f":4.9},{"t":2007.33,"w":15.8,"f":5.5},{"t":2007.35,"w":14.9,"f":5.1},{"t":2007.37,"w":14.5,"f":5.9},{"t":2007.39,"w":14.8,"f":5.6},
{"t":2007.41,"w":15.6,"f":6.4},{"t":2007.43,"w":15.3,"f":6.0},{"t":2007.45,"w":14.6,"f":6.7},{"t":2007.47,"w":15.1,"f":6.1},{"t":2007.49,"w":15.4,"f":6.6},{"t":2007.51,"w":14.7,"f":6.2},{"t":2007.53,"w":14.5,"f":6.5},{"t":2007.55,"w":15.3,"f":5.9},{"t":2007.57,"w":16.0,"f":6.3},{"t":2007.59,"w":15.6,"f":5.8},
{"t":2007.61,"w":14.8,"f":6.0},{"t":2007.63,"w":16.0,"f":5.2},{"t":2007.65,"w":15.0,"f":5.5},{"t":2007.67,"w":14.3,"f":4.6},{"t":2007.69,"w":14.9,"f":4.8},{"t":2007.71,"w":15.7,"f":3.7},{"t":2007.73,"w":15.1,"f":3.8},{"t":2007.75,"w":14.6,"f":3.4},{"t":2007.77,"w":15.2,"f":3.9},{"t":2007.79,"w":15.3,"f":3.5},
{"t":2007.81,"w":14.9,"f":4.2},{"t":2007.83,"w":14.6,"f":3.9},{"t":2007.85,"w":16.4,"f":4.5},{"t":2007.87,"w":16.0,"f":4.1},{"t":2007.89,"w":15.1,"f":4.8},{"t":2007.91,"w":14.4,"f":4.3},{"t":2007.93,"w":14.8,"f":5.0},{"t":2007.95,"w":15.6,"f":4.7},{"t":2007.97,"w":15.1,"f":5.4},{"t":2007.99,"w":14.6,"f":5.1},
{"t":2008.01,"w":15.1,"f":5.8},{"t":2008.03,"w":15.2,"f":5.5},{"t":2008.05,"w":15.0,"f":6.1},{"t":2008.07,"w":16.4,"f":5.7},{"t":2008.09,"w":15.3,"f":6.3},{"t":2008.11,"w":14.6,"f":5.9},{"t":2008.13,"w":16.0,"f":6.8},{"t":2008.15,"w":15.3,"f":5.2},{"t":2008.17,"w":14.6,"f":4.8},{"t":2008.19,"w":15.0,"f":5.4}
]},
"transform":[{"fold":["w","f","r"],"as":["series","mm"]},{"filter":"isValid(datum.mm)"}],
"mark":{"type":"line","color":"#4285f4","clip":false},
"encoding":{
"x":{"field":"t","type":"quantitative","title":"Years","scale":{"domain":[2000,2009],"nice":false,"zero":false},"axis":{"values":[2000,2001,2002,2003,2004,2005,2006,2007,2008,2009],"labelPadding":22,"titlePadding":6}},
"y":{"field":"mm","type":"quantitative","title":"mm","scale":{"domain":[-40,20],"nice":false,"zero":false},"axis":{"values":[-40,-30,-20,-10,0,10,20],"labelPadding":22,"titlePadding":29}},
"detail":{"field":"series"},
"strokeWidth":{"condition":{"test":"datum.series === 'r'","value":1.2},"value":1.5}}},
{"data":{"values":[
{"t":2004.83,"v":18.43,"label":"white noise"},
{"t":2006.61,"v":-2.36,"label":"flicker noise"},
{"t":2006.13,"v":-16.43,"label":"random walk noise"}]},
"mark":{"type":"text","fontSize":26,"align":"center","baseline":"alphabetic","font":"Liberation Sans","color":"black"},
"encoding":{
"x":{"field":"t","type":"quantitative","title":"Years"},
"y":{"field":"v","type":"quantitative","title":"mm"},
"text":{"field":"label"}}}
]
}
